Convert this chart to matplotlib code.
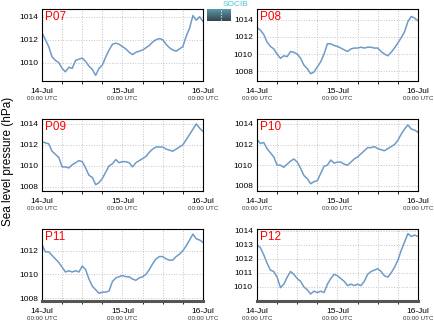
import numpy as np
import matplotlib
matplotlib.use('Agg')
import matplotlib.pyplot as plt

plt.rcParams['font.family'] = ['Liberation Sans', 'DejaVu Sans']

# hours since 14-Jul 00:00 UTC, one reading per hour
hours = np.arange(0, 49)

p07 = [1012.6, 1012.0, 1011.4, 1010.5, 1010.2, 1010.0, 1009.5, 1009.2, 1009.6, 1009.5,
       1010.2, 1010.3, 1010.4, 1010.1, 1009.7, 1009.4, 1008.9, 1009.5, 1009.8, 1010.5,
       1011.1, 1011.6, 1011.7, 1011.6, 1011.4, 1011.2, 1010.9, 1010.7, 1010.9, 1011.0,
       1011.1, 1011.3, 1011.5, 1011.8, 1012.0, 1012.1, 1012.0, 1011.6, 1011.3, 1011.1,
       1011.0, 1011.2, 1011.4, 1012.3, 1013.0, 1014.1, 1013.7, 1014.0, 1013.6]
p08 = [1013.1, 1012.8, 1012.3, 1011.4, 1010.9, 1010.6, 1010.0, 1009.5, 1009.8, 1009.7,
       1010.3, 1010.2, 1010.0, 1009.5, 1008.7, 1008.3, 1007.7, 1007.9, 1008.5, 1009.1,
       1010.0, 1011.2, 1011.2, 1011.0, 1010.9, 1010.7, 1010.5, 1010.3, 1010.6, 1010.7,
       1010.7, 1010.8, 1010.7, 1010.8, 1010.8, 1010.7, 1010.7, 1010.3, 1010.0, 1009.8,
       1010.2, 1010.7, 1011.3, 1011.9, 1012.6, 1013.8, 1014.4, 1014.2, 1013.9]
p09 = [1012.3, 1012.2, 1012.1, 1011.4, 1011.1, 1010.8, 1009.9, 1009.9, 1009.8, 1010.1,
       1010.3, 1010.5, 1010.4, 1009.8, 1009.1, 1008.9, 1008.2, 1008.4, 1008.8, 1009.4,
       1010.0, 1010.2, 1010.6, 1010.3, 1010.4, 1010.4, 1010.3, 1009.9, 1010.3, 1010.5,
       1010.7, 1010.9, 1011.3, 1011.6, 1011.8, 1011.8, 1011.8, 1011.6, 1011.5, 1011.4,
       1011.6, 1011.8, 1012.0, 1012.5, 1013.0, 1013.5, 1014.0, 1013.6, 1013.3]
p10 = [1012.5, 1012.1, 1012.2, 1011.6, 1011.2, 1010.8, 1010.0, 1010.0, 1009.8, 1010.1,
       1010.4, 1010.6, 1010.3, 1009.7, 1009.0, 1008.7, 1008.2, 1008.4, 1008.5, 1009.2,
       1009.9, 1010.0, 1010.5, 1010.2, 1010.3, 1010.3, 1010.1, 1010.0, 1010.3, 1010.6,
       1010.8, 1011.1, 1011.4, 1011.7, 1011.7, 1011.8, 1011.6, 1011.5, 1011.4, 1011.6,
       1011.8, 1012.0, 1012.4, 1013.0, 1013.5, 1013.9, 1013.5, 1013.4, 1013.2]
p11 = [1012.5, 1011.9, 1011.9, 1011.6, 1011.3, 1011.0, 1010.6, 1010.2, 1010.3, 1010.2,
       1010.3, 1010.2, 1010.7, 1010.4, 1009.6, 1009.0, 1008.7, 1008.4, 1008.5, 1008.5,
       1008.6, 1009.4, 1009.7, 1009.8, 1009.9, 1009.8, 1009.8, 1009.6, 1009.5, 1009.7,
       1009.8, 1010.0, 1010.4, 1010.9, 1011.3, 1011.5, 1011.5, 1011.3, 1011.2, 1011.2,
       1011.5, 1011.7, 1012.0, 1012.4, 1012.9, 1013.4, 1013.0, 1012.9, 1012.7]
p12 = [1013.0, 1012.8, 1012.3, 1011.7, 1011.2, 1011.1, 1010.7, 1009.95, 1010.2, 1010.7,
       1011.1, 1010.9, 1010.6, 1010.4, 1010.0, 1009.8, 1009.5, 1009.7, 1009.6, 1009.7,
       1009.6, 1010.2, 1010.6, 1010.9, 1010.8, 1010.6, 1010.4, 1010.1, 1010.2, 1010.1,
       1010.2, 1010.1, 1010.4, 1010.9, 1011.1, 1011.2, 1011.3, 1011.1, 1010.8, 1010.7,
       1011.0, 1011.4, 1011.9, 1012.6, 1013.2, 1013.8, 1013.6, 1013.7, 1013.6]

names = ['P07', 'P08', 'P09', 'P10', 'P11', 'P12']
series = [p07, p08, p09, p10, p11, p12]
ylims = [(1008.4, 1014.7), (1006.85, 1015.3), (1007.6, 1014.5),
         (1007.5, 1014.5), (1007.75, 1013.85), (1009.0, 1014.15)]
yticks = [[1010, 1012, 1014], [1008, 1010, 1012, 1014], [1008, 1010, 1012, 1014],
          [1008, 1010, 1012, 1014], [1008, 1010, 1012], [1010, 1011, 1012, 1013, 1014]]
date_ticks = [0, 24, 48]
date_labels = ['14-Jul', '15-Jul', '16-Jul']

fig = plt.figure(figsize=(4.35, 3.27), dpi=100)

lefts = [0.0966, 0.5908]
bottoms = [0.7523, 0.4159, 0.0795]
w, h = 0.370, 0.221

for i, (name, vals) in enumerate(zip(names, series)):
    row, col = divmod(i, 2)
    ax = fig.add_axes([lefts[col], bottoms[row], w, h])
    ax.plot(hours, vals, color='#6e9bc8', lw=1.1)
    ax.set_xlim(0, 48)
    ax.set_ylim(*ylims[i])
    ax.set_yticks(yticks[i])
    ax.set_yticklabels([str(t) for t in yticks[i]], fontsize=6)
    ax.set_xticks(np.arange(0, 49, 6), minor=True)
    ax.set_xticks(date_ticks)
    ax.set_xticklabels(date_labels, fontsize=6)
    ax.tick_params(length=0, pad=3)
    ax.tick_params(axis='x', pad=5)
    ax.grid(True, which='both', axis='x', color='#c4c4c4', ls=':', lw=0.7)
    ax.grid(True, which='major', axis='y', color='#c4c4c4', ls=':', lw=0.7)
    for s in ax.spines.values():
        s.set_linewidth(0.8)
    if row == 2:
        ax.spines['bottom'].set_linewidth(2.2)
        ax.spines['bottom'].set_color('#555555')
    for t in date_ticks:
        ax.text(t, -0.21, '00:00 UTC', transform=ax.get_xaxis_transform(),
                ha='center', va='top', fontsize=4.5, color='#333333')
    ax.text(0.02, 0.97, name, transform=ax.transAxes, ha='left', va='top',
            fontsize=8.5, color='red')

fig.text(0.018, 0.505, 'Sea level pressure (hPa)', rotation=90, ha='center',
         va='center', fontsize=8.5)

# SOCIB logo block
fig.text(0.5425, 0.997, 'SOCIB', ha='center', va='top', fontsize=6, color='#4cc4d8')
lax = fig.add_axes([207 / 435, 1 - 21 / 327, 24 / 435, 12 / 327])
grad = np.linspace(0, 1, 32).reshape(-1, 1)
lax.imshow(grad, aspect='auto', cmap=matplotlib.colors.LinearSegmentedColormap.from_list(
    'logo', ['#5a98a8', '#34444f']), extent=(0, 1, 0, 1), origin='upper')
lax.plot([0.6, 0.6], [0.1, 0.9], color='white', ls=':', lw=0.8)
lax.set_xlim(0, 1)
lax.set_ylim(0, 1)
lax.axis('off')

fig.savefig('out.png', dpi=100)
